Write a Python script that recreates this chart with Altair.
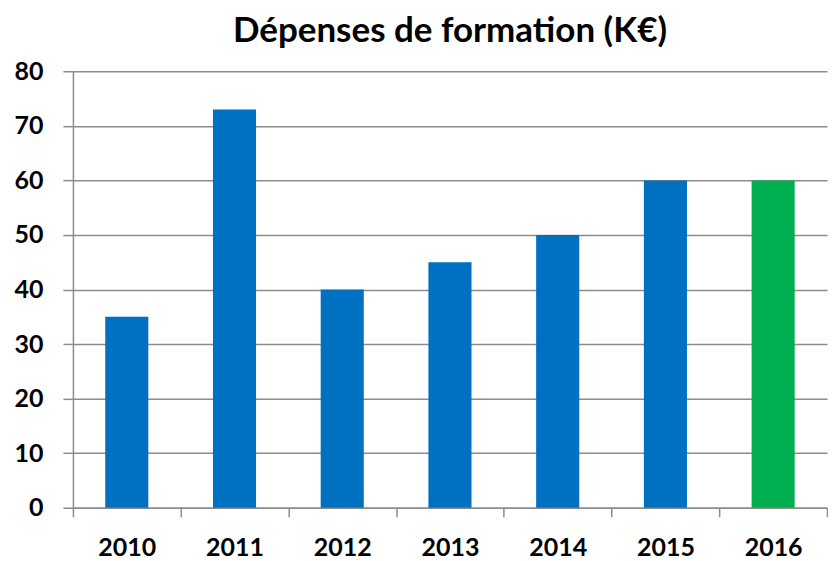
import altair as alt
import pandas as pd

years = ["2010", "2011", "2012", "2013", "2014", "2015", "2016"]
values = [35, 73, 40, 45, 50, 60, 60]
colors = ["#0070C0", "#0070C0", "#0070C0", "#0070C0", "#0070C0", "#0070C0", "#00B050"]

df = pd.DataFrame({"year": years, "value": values, "color": colors})

FONT = "Lato"
GRID = "#8c8c8c"

chart = (
    alt.Chart(df)
    .mark_bar(width=alt.RelativeBandSize(0.4))
    .encode(
        x=alt.X(
            "year:N",
            sort=years,
            title=None,
            scale=alt.Scale(paddingInner=0, paddingOuter=0),
            axis=alt.Axis(
                labelAngle=0,
                labelFont=FONT,
                labelFontSize=25,
                labelFontWeight="bold",
                labelColor="#000000",
                labelPadding=19,
                tickBand="extent",
                tickSize=9,
                tickColor=GRID,
                tickWidth=1.5,
                domainColor=GRID,
                domainWidth=1.5,
                grid=False,
            ),
        ),
        y=alt.Y(
            "value:Q",
            title=None,
            scale=alt.Scale(domain=[0, 80], nice=False),
            axis=alt.Axis(
                values=[0, 10, 20, 30, 40, 50, 60, 70, 80],
                labelFont=FONT,
                labelFontSize=25,
                labelFontWeight="bold",
                labelColor="#000000",
                labelPadding=20,
                tickSize=10,
                tickColor=GRID,
                tickWidth=1.5,
                domainColor=GRID,
                domainWidth=1.5,
                gridColor=GRID,
                gridWidth=1.5,
                minExtent=65,
                maxExtent=65,
            ),
        ),
        color=alt.Color("color:N", scale=None, legend=None),
    )
    .properties(
        width=755,
        height=437,
        padding={"left": 0, "top": 6, "right": 0, "bottom": 0},
        title=alt.TitleParams(
            text="Dépenses de formation (K€)",
            font=FONT,
            fontSize=35,
            fontWeight="bold",
            color="#000000",
            anchor="middle",
            offset=10,
        ),
    )
    .configure_view(stroke=None)
)

chart.save("out.html", embed_options={"renderer": "svg", "actions": False})
